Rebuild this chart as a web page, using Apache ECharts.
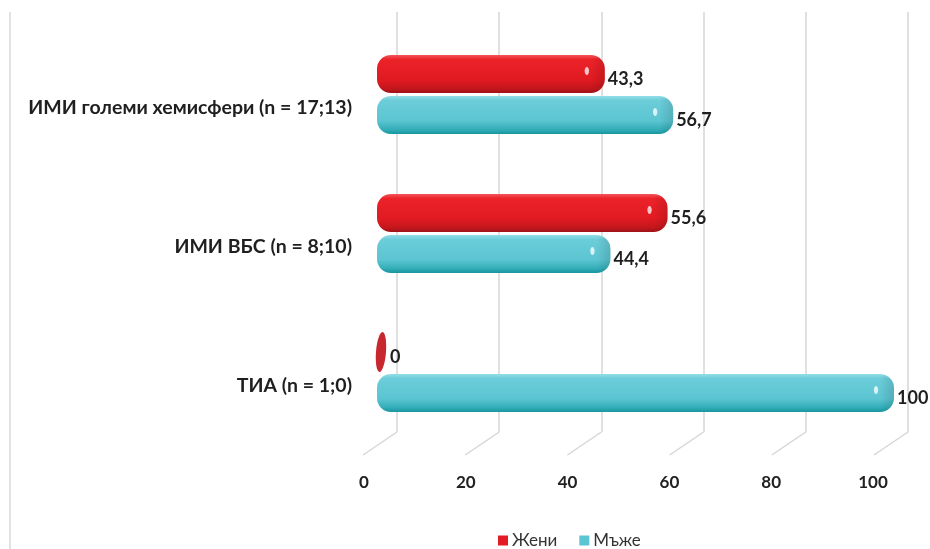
<!DOCTYPE html>
<html>
<head>
<meta charset="utf-8">
<script src="https://cdn.jsdelivr.net/npm/echarts@6/dist/echarts.min.js"></script>
<style>
  html, body { margin: 0; padding: 0; background: #fff; }
  #chart { width: 930px; height: 549px; }
</style>
</head>
<body>
<div id="chart"></div>
<script>
// Categories, listed from the bottom of the chart to the top
const categories = ['ТИА (n = 1;0)', 'ИМИ ВБС (n = 8;10)', 'ИМИ големи хемисфери (n = 17;13)'];
const seriesNames = ['Жени', 'Мъже'];
const womenValues = [0, 55.6, 43.3];
const menValues = [100, 44.4, 56.7];
const tickValues = [0, 20, 40, 60, 80, 100];

const FONT = 'Lato, "Open Sans", sans-serif';
const BAR_H = 38;

const palettes = {
  'Жени': {
    base: '#e31b23',
    stops: [[0, '#f2555a'], [0.12, '#ec2229'], [0.65, '#e11a21'], [0.88, '#c3171d'], [1, '#9e1318']],
    zero: '#c6282e'
  },
  'Мъже': {
    base: '#5bc5d1',
    stops: [[0, '#93dde7'], [0.12, '#6bcdd9'], [0.65, '#5cc5d2'], [0.88, '#33aeb8'], [1, '#17959e']],
    zero: '#35aab4'
  }
};

const fmt = v => String(v).replace('.', ',');

// Rounded "cylinder" bar drawn from the value axis
function makeBarRenderer(name, offset) {
  const pal = palettes[name];
  return function (params, api) {
    const v = api.value(0);
    const cat = api.value(1);
    const base = api.coord([0, cat]);
    const end = api.coord([v, cat]);
    const cy = base[1] + offset;
    const children = [];
    let labelX;
    if (v === 0) {
      children.push({
        type: 'ellipse',
        shape: { cx: base[0] + 1, cy: cy, rx: 5, ry: 20 },
        rotation: -0.08,
        originX: base[0] + 1, originY: cy,
        style: { fill: pal.zero }
      });
      labelX = base[0] + 10;
    } else {
      const left = base[0] - 3;
      const right = end[0] + 4;
      children.push({
        type: 'rect',
        shape: { x: left, y: cy - BAR_H / 2, width: right - left, height: BAR_H, r: 14 },
        style: {
          fill: new echarts.graphic.LinearGradient(0, 0, 0, 1,
            pal.stops.map(s => ({ offset: s[0], color: s[1] })))
        }
      });
      // soft darker edge along the rounded right cap
      children.push({
        type: 'rect',
        shape: { x: right - 14, y: cy - BAR_H / 2 + 1, width: 14, height: BAR_H - 2, r: [0, 13, 13, 0] },
        style: {
          fill: new echarts.graphic.LinearGradient(0, 0, 1, 0, [
            { offset: 0, color: 'rgba(0,0,0,0)' },
            { offset: 1, color: 'rgba(0,0,0,0.12)' }
          ])
        }
      });
      // specular glint near the end of the bar
      children.push({
        type: 'ellipse',
        shape: { cx: end[0] - 14, cy: cy - 3, rx: 2.2, ry: 4 },
        style: { fill: 'rgba(255,255,255,0.75)' }
      });
      labelX = right + 3;
    }
    children.push({
      type: 'text',
      x: labelX,
      y: cy + 5,
      style: {
        text: fmt(v),
        fill: '#1f1f1f',
        font: 'bold 18px ' + FONT,
        align: 'left',
        verticalAlign: 'middle'
      }
    });
    return { type: 'group', children: children };
  };
}

const chart = echarts.init(document.getElementById('chart'), null, { renderer: 'canvas' });

const option = {
  backgroundColor: '#ffffff',
  animation: false,
  graphic: [
    { type: 'line', shape: { x1: 10, y1: 12, x2: 10, y2: 549 }, style: { stroke: '#d9d9d9', lineWidth: 1.5 } }
  ],
  legend: {
    left: 493,
    top: 527,
    itemWidth: 10,
    itemHeight: 10,
    itemGap: 22,
    icon: 'rect',
    textStyle: { fontFamily: FONT, fontSize: 17, color: '#333', padding: [0, 0, 0, -1] },
    data: [
      { name: 'Жени', itemStyle: { color: palettes['Жени'].base } },
      { name: 'Мъже', itemStyle: { color: palettes['Мъже'].base } }
    ]
  },
  grid: [
    // 0: bars
    { left: 380, right: 40, top: 25, bottom: 107 },
    // 1: back wall with gridlines
    { left: 397, right: 22, top: 12, bottom: 117 },
    // 2: front floor edge carrying the tick labels
    { left: 364, right: 57, top: 400, bottom: 84 },
    // 3: category labels, sitting a little below the bar pairs
    { left: 380, right: 40, top: 38, bottom: 94 }
  ],
  xAxis: [
    { gridIndex: 0, type: 'value', min: 0, max: 100, interval: 20, show: false },
    {
      gridIndex: 1, type: 'value', min: 0, max: 100, interval: 20,
      axisLine: { show: false }, axisTick: { show: false }, axisLabel: { show: false },
      splitLine: { show: true, lineStyle: { color: '#d6d6d6', width: 1.5 } }
    },
    {
      gridIndex: 2, type: 'value', min: 0, max: 100, interval: 20,
      axisLine: { show: false }, axisTick: { show: false }, splitLine: { show: false },
      axisLabel: { color: '#222', fontFamily: FONT, fontWeight: 'bold', fontSize: 17, margin: 9 }
    },
    { gridIndex: 3, type: 'value', min: 0, max: 100, show: false }
  ],
  yAxis: [
    { gridIndex: 0, type: 'category', data: categories, show: false },
    { gridIndex: 1, type: 'value', min: 0, max: 1, show: false },
    { gridIndex: 2, type: 'value', min: 0, max: 1, show: false },
    {
      gridIndex: 3, type: 'category', data: categories,
      axisLine: { show: false }, axisTick: { show: false }, splitLine: { show: false },
      axisLabel: {
        color: '#1f1f1f', fontFamily: FONT, fontWeight: 'bold', fontSize: 19.5,
        margin: 28
      }
    }
  ],
  series: [
    {
      // slanted floor segments of the gridlines
      type: 'custom',
      name: 'floor',
      xAxisIndex: 1, yAxisIndex: 1,
      silent: true,
      z: 1,
      data: tickValues.map(t => [t, 0]),
      renderItem: function (params, api) {
        const p = api.coord([api.value(0), 0]);
        return {
          type: 'line',
          shape: { x1: p[0], y1: p[1], x2: p[0] - 34, y2: p[1] + 23 },
          style: { stroke: '#d6d6d6', lineWidth: 1.5 }
        };
      }
    },
    {
      type: 'custom',
      name: seriesNames[0],
      xAxisIndex: 0, yAxisIndex: 0,
      z: 3,
      itemStyle: { color: palettes['Жени'].base },
      encode: { x: 0, y: 1 },
      data: womenValues.map((v, i) => [v, i]),
      renderItem: makeBarRenderer('Жени', -20.5)
    },
    {
      type: 'custom',
      name: seriesNames[1],
      xAxisIndex: 0, yAxisIndex: 0,
      z: 3,
      itemStyle: { color: palettes['Мъже'].base },
      encode: { x: 0, y: 1 },
      data: menValues.map((v, i) => [v, i]),
      renderItem: makeBarRenderer('Мъже', 20.5)
    }
  ]
};

chart.setOption(option);
</script>
</body>
</html>
